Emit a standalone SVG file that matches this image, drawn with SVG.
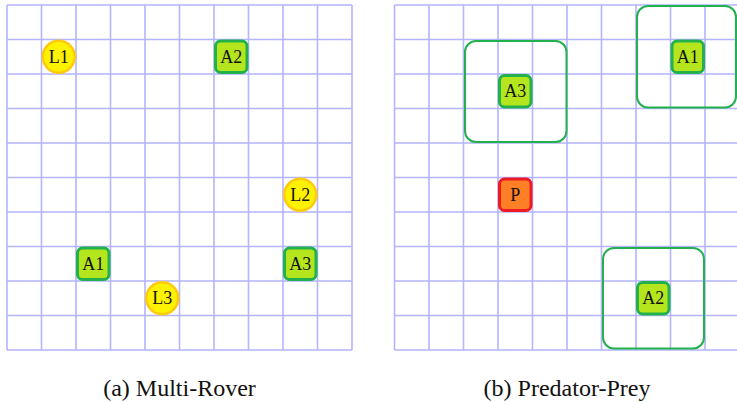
<svg xmlns="http://www.w3.org/2000/svg" width="737" height="402" viewBox="0 0 737 402">
<style>
.grid{fill:none;stroke:#b4b4ff;stroke-width:1.6}
.agent rect{fill:#b5e61d;stroke:#22b14c;stroke-width:3}
.pred rect{fill:#ff7f27;stroke:#ed1c24;stroke-width:3}
.land circle{fill:#fff200;stroke:#ffc90e;stroke-width:2.5}
.agent rect.range{fill:none;stroke:#22b14c;stroke-width:2}
.lbl{font-size:18px}
.cap{font-size:24px}
</style>
<rect width="737" height="402" fill="#fff"/>
<g id="grid-a">
<path class="grid" d="M7 5V350M41.5 5V350M76 5V350M110.5 5V350M145 5V350M179.5 5V350M214 5V350M248.5 5V350M283 5V350M317.5 5V350M352 5V350M7 5H352M7 39.5H352M7 74H352M7 108.5H352M7 143H352M7 177.5H352M7 212H352M7 246.5H352M7 281H352M7 315.5H352M7 350H352"/>
</g>
<g id="grid-b">
<path class="grid" d="M394.5 5V350M429 5V350M463.5 5V350M498 5V350M532.5 5V350M567 5V350M601.5 5V350M636 5V350M670.5 5V350M705 5V350M739.5 5V350M394.5 5H740M394.5 39.5H740M394.5 74H740M394.5 108.5H740M394.5 143H740M394.5 177.5H740M394.5 212H740M394.5 246.5H740M394.5 281H740M394.5 315.5H740M394.5 350H740"/>
</g>
<g id="connectors"></g>
<g font-family="'Liberation Serif', 'Times New Roman', serif" fill="#111" text-anchor="middle">
<g id="a-L1" class="land"><circle cx="58.75" cy="56.75" r="16"/><text class="lbl" x="58.75" y="62.75">L1</text></g>
<g id="a-A2" class="agent"><rect x="215.5" y="41" width="31.5" height="31.5" rx="5"/><text class="lbl" x="231.25" y="62.75">A2</text></g>
<g id="a-L2" class="land"><circle cx="300.25" cy="194.75" r="16"/><text class="lbl" x="300.25" y="200.75">L2</text></g>
<g id="a-A1" class="agent"><rect x="77.5" y="248" width="31.5" height="31.5" rx="5"/><text class="lbl" x="93.25" y="269.75">A1</text></g>
<g id="a-A3" class="agent"><rect x="284.5" y="248" width="31.5" height="31.5" rx="5"/><text class="lbl" x="300.25" y="269.75">A3</text></g>
<g id="a-L3" class="land"><circle cx="162.25" cy="298.25" r="16"/><text class="lbl" x="162.25" y="304.25">L3</text></g>
<g id="b-A3" class="agent"><rect class="range" x="465" y="41" width="101.5" height="101" rx="11"/><rect x="499.5" y="75.5" width="31.5" height="31.5" rx="5"/><text class="lbl" x="515.25" y="97.25">A3</text></g>
<g id="b-A1" class="agent"><rect class="range" x="637" y="6" width="99" height="101.5" rx="11"/><rect x="672" y="41" width="31.5" height="31.5" rx="5"/><text class="lbl" x="687.75" y="62.75">A1</text></g>
<g id="b-P" class="pred"><rect x="499.5" y="179" width="31.5" height="31.5" rx="5"/><text class="lbl" x="515.25" y="200.75">P</text></g>
<g id="b-A2" class="agent"><rect class="range" x="603" y="248" width="101" height="100.5" rx="11"/><rect x="637.5" y="282.5" width="31.5" height="31.5" rx="5"/><text class="lbl" x="653.25" y="304.25">A2</text></g>
<text class="cap" x="179.5" y="396">(a) Multi-Rover</text>
<text class="cap" x="567" y="396">(b) Predator-Prey</text>
</g>
</svg>
